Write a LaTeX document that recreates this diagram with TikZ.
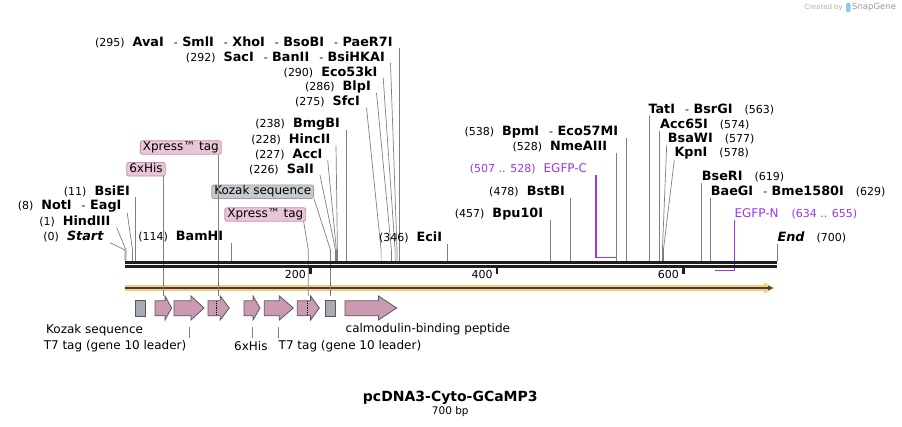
\documentclass[tikz,border=0pt]{standalone}
\usepackage{fontspec}
\setmainfont{DejaVu Sans}
\usetikzlibrary{arrows.meta, calc}
\definecolor{featpink}{HTML}{C99AB2}
\definecolor{featgray}{HTML}{A5ABB1}
\definecolor{callpink}{HTML}{E8C6D6}
\definecolor{callpinkd}{HTML}{C490AA}
\definecolor{callgray}{HTML}{C6CBD0}
\definecolor{callgrayd}{HTML}{979EA5}
\definecolor{egfp}{HTML}{9F35E8}
\definecolor{barorange}{HTML}{FFCB7A}
\definecolor{logoblue}{HTML}{8FC8EE}
\newcommand{\nm}[1]{\textbf{\fontsize{12.8}{14}\selectfont #1}}
\newcommand{\ps}[1]{{\fontsize{11}{13}\selectfont(#1)}}
\newcommand{\dsh}{\hspace{10pt}-\hspace{4.5pt}}
\newcommand{\gap}{\hspace{8pt}}
\tikzset{
  lbl/.style={inner sep=0pt, font=\fontsize{11}{13}\selectfont},
  flbl/.style={inner sep=0pt, font=\fontsize{12}{14}\selectfont},
  leader/.style={draw=black!50, line width=0.7pt},
  primer/.style={draw=egfp, line width=1.3pt},
  strand/.style={draw=black!88, line width=2.8pt},
  tick/.style={draw=black!88, line width=2.4pt},
  featp/.style={draw=black!65, line width=0.8pt, fill=featpink},
  featg/.style={draw=black!65, line width=0.8pt, fill=featgray},
  callp/.style={draw=callpinkd, fill=callpink, rounded corners=2pt,
    line width=0.8pt, font=\fontsize{12}{14}\selectfont,
    inner xsep=2.5pt, inner ysep=1pt, text height=9pt, text depth=2.5pt},
  callg/.style={callp, draw=callgrayd, fill=callgray},
}
% cut site, label on the left of its leader
\newcommand{\cutL}[6]{%
  \node[lbl, anchor=east] (#1) at (#2,#3) {#6};
  \coordinate (#1-s) at (#4,250);
  \coordinate (#1-b) at (#4,261);
  \draw[leader] ($(#1.east)+(#5,6)$) -- (#1-s) -- (#1-b);
}
% cut site, label on the right of its leader
\newcommand{\cutR}[6]{%
  \node[lbl, anchor=west] (#1) at (#2,#3) {#6};
  \coordinate (#1-s) at (#4,250);
  \coordinate (#1-b) at (#4,261);
  \draw[leader] ($(#1.west)+(#5,6.5)$) -- (#1-s) -- (#1-b);
}
% feature arrow: name, start, end, head length
\newcommand{\feat}[4]{%
  \draw[featp] (#2,300.8) -- (#3-#4,300.8) -- (#3-#4,296) -- (#3,308)
    -- (#3-#4,320) -- (#3-#4,315.8) -- (#2,315.8) -- cycle;
  \coordinate (#1) at ({(#2+#3)/2},308);
}

\begin{document}
\begin{tikzpicture}[x=1pt, y=-1pt, >=Stealth]
  \fill[white] (0,0) rectangle (902,427);
  \useasboundingbox (0,0) rectangle (902,427);

  % orange bar
  \fill[barorange] (125,285.3) rectangle (767,290.7);
  \fill[barorange] (764,282.5) -- (775,288) -- (764,293.5) -- cycle;
  \draw[black!75, line width=1.3pt, -{Triangle[length=5pt, width=4.5pt]}]
    (125,288) -- (773,288);

  % sites, left labels
  \cutL{AvaI}{392.7}{42}{399.8}{7.1}{\ps{295}\gap\nm{AvaI}\dsh\nm{SmlI}\dsh\nm{XhoI}\dsh\nm{BsoBI}\dsh\nm{PaeR7I}}
  \cutL{SacI}{385}{57}{397}{5.5}{\ps{292}\gap\nm{SacI}\dsh\nm{BanII}\dsh\nm{BsiHKAI}}
  \cutL{Eco53kI}{377.7}{72}{395.1}{5.5}{\ps{290}\gap\nm{Eco53kI}}
  \cutL{BlpI}{371}{87}{391.4}{5.5}{\ps{286}\gap\nm{BlpI}}
  \cutL{SfcI}{360}{101.7}{381.1}{6.5}{\ps{275}\gap\nm{SfcI}}
  \cutL{BmgBI}{340}{124.5}{346.7}{6.7}{\ps{238}\gap\nm{BmgBI}}
  \cutL{HincII}{330.5}{139.3}{337.4}{5.5}{\ps{228}\gap\nm{HincII}}
  \cutL{AccI}{322.7}{154.3}{336.4}{5}{\ps{227}\gap\nm{AccI}}
  \cutL{SalI}{314}{169.3}{335.5}{6}{\ps{226}\gap\nm{SalI}}
  \cutL{BsiEI}{130}{191.5}{135.2}{5.2}{\ps{11}\gap\nm{BsiEI}}
  \cutL{NotI}{121.7}{206.7}{132.5}{5.5}{\ps{8}\gap\nm{NotI}\dsh\nm{EagI}}
  \cutL{HindIII}{110.7}{221.7}{126}{6}{\ps{1}\gap\nm{HindIII}}
  \cutL{Start}{104}{236.7}{125}{6}{\ps{0}\gap\nm{\itshape Start}}
  \cutL{BamHI}{223.3}{236.7}{231.2}{7.9}{\ps{114}\gap\nm{BamHI}}
  \cutL{EciI}{442.3}{237.7}{447.3}{5}{\ps{346}\gap\nm{EciI}}
  \cutL{Bpu10I}{543.3}{214}{550.6}{7.3}{\ps{457}\gap\nm{Bpu10I}}
  \cutL{BstBI}{565}{191.7}{570.2}{5.2}{\ps{478}\gap\nm{BstBI}}
  \cutL{NmeAIII}{607.3}{146.7}{616.8}{9.5}{\ps{528}\gap\nm{NmeAIII}}
  \cutL{BpmI}{618.3}{131.7}{626.1}{7.8}{\ps{538}\gap\nm{BpmI}\dsh\nm{Eco57MI}}

  % sites, right labels
  \cutR{TatI}{648.3}{109}{649.4}{1.1}{\nm{TatI}\dsh\nm{BsrGI}\hspace{12pt}\ps{563}}
  \cutR{Acc65I}{660}{124.3}{659.6}{-0.4}{\nm{Acc65I}\hspace{12pt}\ps{574}}
  \cutR{BsaWI}{667.7}{138.3}{662.4}{-1}{\nm{BsaWI}\hspace{12pt}\ps{577}}
  \cutR{KpnI}{674.3}{153.3}{663.4}{0}{\nm{KpnI}\hspace{12pt}\ps{578}}
  \cutR{BseRI}{701.7}{176.7}{701.5}{-0.2}{\nm{BseRI}\hspace{12pt}\ps{619}}
  \cutR{BaeGI}{710.7}{191.7}{710.8}{0.1}{\nm{BaeGI}\dsh\nm{Bme1580I}\hspace{12pt}\ps{629}}
  \cutR{End}{777.3}{237.3}{777}{-0.3}{\nm{\itshape End}\hspace{12pt}\ps{700}}

  % primers
  \node[lbl, anchor=east, text=egfp] (EGFPC) at (587.3,169)
    {\ps{507 .. 528}\gap{\fontsize{12}{14}\selectfont EGFP-C}};
  \coordinate (EGFPC-b) at (596,257.4);
  \coordinate (EGFPC-e) at (615.5,257.4);
  \draw[primer] ($(EGFPC.east)+(8.7,6)$) -- (EGFPC-b) -- (EGFPC-e);
  \node[lbl, anchor=west, text=egfp] (EGFPN) at (734.3,214)
    {{\fontsize{12}{14}\selectfont EGFP-N}\hspace{13pt}\ps{634 .. 655}};
  \coordinate (EGFPN-b) at (734.5,270.6);
  \coordinate (EGFPN-e) at (714.5,270.6);
  \draw[primer] ($(EGFPN.west)+(0.2,6)$) -- (EGFPN-b) -- (EGFPN-e);

  % features
  \draw[featg] (135,300.5) rectangle (145,316.5);
  \coordinate (kA) at (140,308);
  \feat{fA}{155}{171.7}{6.7}
  \feat{fB}{174}{204}{13}
  \feat{fC}{208}{229.3}{9}
  \draw[densely dotted, line width=0.8pt] (216,301.2) -- (216,315.4);
  \feat{fD}{244}{260}{7}
  \feat{fE}{264.3}{293.3}{14}
  \feat{fF}{297.3}{319.3}{8.7}
  \draw[densely dotted, line width=0.8pt] (307.7,301.2) -- (307.7,315.4);
  \draw[featg] (325.3,300.5) rectangle (335.7,316.5);
  \coordinate (kB) at (330.5,308);
  \feat{fG}{345}{396.7}{18.3}

  % callouts above
  \node[callp] (XpA) at (180.8,147.5) {Xpress™ tag};
  \node[callp] (HisA) at (146,169.3) {6xHis};
  \node[callg] (KozA) at (262.7,191.7) {Kozak sequence};
  \node[callp] (XpB) at (265.3,214.5) {Xpress™ tag};
  \draw[leader] (HisA.south -| fA) -- ($(fA)+(0,-12)$);
  \draw[leader] (XpA.south -| fC) -- ($(fC)+(0,-12)$);
  \draw[leader] (KozA.south east) -- ($(kB)+(0,-58)$) -- ($(kB)+(0,-12)$);
  \draw[leader] ($(XpB.south east)+(-2.5,0)$) -- ($(fF)+(0,-58)$) -- ($(fF)+(0,-12)$);

  % labels below
  \node[flbl, anchor=west] (KozB) at (46,330) {Kozak sequence};
  \node[flbl, anchor=east] (T7A) at (186.5,346) {T7 tag (gene 10 leader)};
  \node[flbl, anchor=west] (HisB) at (234,346) {6xHis};
  \node[flbl, anchor=west] (T7B) at (278.5,346) {T7 tag (gene 10 leader)};
  \node[flbl, anchor=west] (CaM) at (345.5,329.3) {calmodulin-binding peptide};
  \foreach \f in {fB, fD, fE}
    \draw[leader] ($(\f)+(0,19)$) -- ($(\f)+(0,30)$);

  % DNA
  \draw[strand] (125,262.4) -- (777,262.4);
  \draw[strand] (125,266.6) -- (777,266.6);
  \foreach \t/\x in {200/310.5, 400/497.2, 600/683.5}{
    \draw[tick] (\x,267.5) -- (\x,274.5);
    \node[lbl, anchor=east] (t\t) at (\x-4.5,274.5) {\t};
  }

  % title
  \node[font=\bfseries\fontsize{14}{16}\selectfont] (title) at (450.3,397.5) {pcDNA3-Cyto-GCaMP3};
  \node[font=\fontsize{10.5}{12}\selectfont] (len) at (450.3,411.5) {700 bp};

  % watermark
  \node[anchor=east, inner sep=0pt, text=black!30, font=\fontsize{7}{8}\selectfont] (made) at (843,7.5) {Created by};
  \fill[logoblue, rounded corners=1pt] (846,3) rectangle (850.5,12);
  \node[anchor=west, inner sep=0pt, text=black!40, font=\fontsize{8.5}{9}\selectfont] (sg) at (852,7.5) {SnapGene};
\end{tikzpicture}
\end{document}
